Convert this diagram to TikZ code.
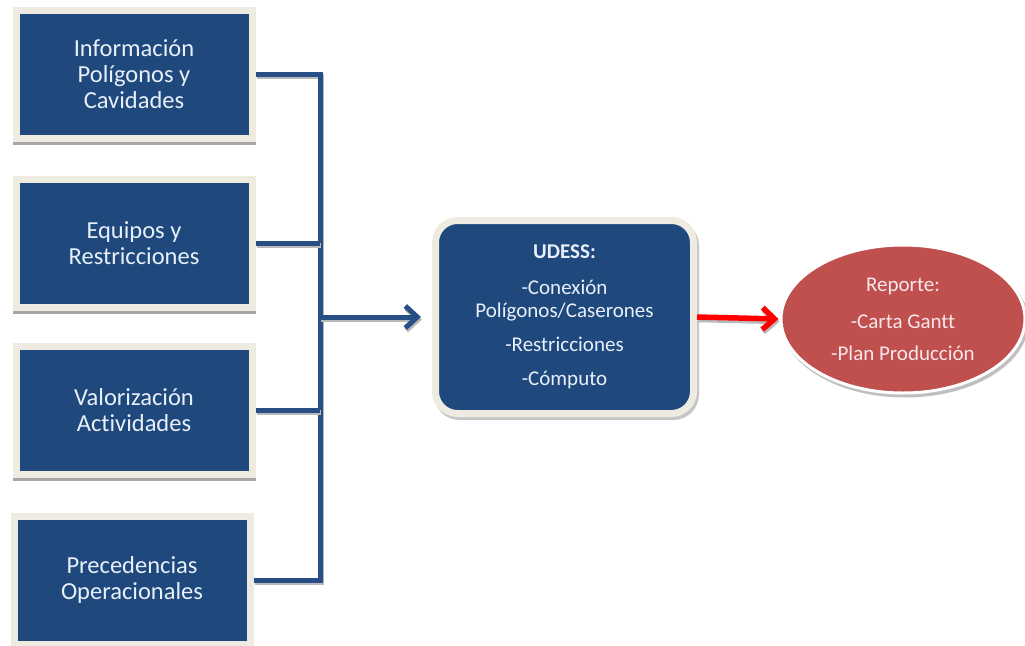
\documentclass[tikz,border=0pt]{standalone}
\usepackage{fontspec}
\setmainfont{Carlito}[Ligatures=NoCommon]
\usetikzlibrary{arrows.meta,shadows,shapes.geometric}
\definecolor{boxblue}{HTML}{1F497D}
\definecolor{boxframe}{HTML}{EEECE1}
\definecolor{wire}{HTML}{284F85}
\definecolor{lighttext}{HTML}{E8EFF9}
\definecolor{reportred}{HTML}{C0504D}
\definecolor{pinktext}{HTML}{F8E6EC}

\begin{document}
\begin{tikzpicture}[x=1pt,y=1pt,
  inputbox/.style={rectangle, fill=boxblue, draw=boxframe, line width=7pt,
    minimum width=236pt, minimum height=128pt, inner sep=0pt, outer sep=3.5pt,
    text=lighttext, align=center, font=\fontsize{24.5}{26}\selectfont,
    drop shadow={shadow xshift=0pt, shadow yshift=-3pt, fill=gray!70,
      draw=gray!70, line width=7pt, opacity=1}},
  mainbox/.style={rectangle, rounded corners=22pt, fill=boxblue, draw=boxframe,
    line width=7pt, minimum width=258pt, minimum height=193pt, inner sep=0pt,
    outer sep=3.5pt, text=lighttext, align=center,
    font=\fontsize{21}{23}\selectfont,
    drop shadow={shadow xshift=2pt, shadow yshift=-3pt, fill=gray!45,
      draw=gray!45, line width=7pt, opacity=1}},
  reportnode/.style={ellipse, fill=reportred, draw=white, line width=3pt,
    minimum width=244pt, minimum height=148pt, inner sep=0pt, outer sep=1.5pt,
    text=pinktext, align=center, font=\fontsize{21}{23}\selectfont,
    drop shadow={shadow xshift=2pt, shadow yshift=-3pt, fill=gray!50,
      draw=gray!50, line width=3pt, opacity=1}},
  conn/.style={draw=wire, line width=5pt, line join=miter,
    preaction={draw=gray!55, line width=5pt,
      transform canvas={xshift=1pt, yshift=-2.5pt}}},
  bluetip/.style={-{Straight Barb[length=12pt, width=22pt]}},
  redconn/.style={draw=red, line width=5.5pt,
    -{Straight Barb[length=12pt, width=22pt]},
    preaction={draw=gray!55, line width=5.5pt,
      transform canvas={xshift=1pt, yshift=-2.5pt}}}
]
\useasboundingbox (0,0) rectangle (1025,-645);
\clip (0,0) rectangle (1025,-645);

% input boxes
\node[inputbox] (b1) at (134,-74)  {Información\\Polígonos y\\Cavidades};
\node[inputbox] (b2) at (134,-243) {Equipos y\\Restricciones};
\node[inputbox] (b3) at (134,-410) {Valorización\\Actividades};
\node[inputbox] (b4) at (132,-580) {Precedencias\\Operacionales};

% central process box
\node[mainbox] (udess) at (564.5,-317)
  {\textbf{UDESS:}\\[13pt]-Conexión\\Polígonos/Caserones\\[11pt]-Restricciones\\[11pt]-Cómputo};

% report ellipse
\node[reportnode] (rep) at (903,-319)
  {Reporte:\\[14pt]-Carta Gantt\\[9pt]-Plan Producción};

% collecting bus
\coordinate (bus) at (320,0);
\draw[conn] (b1.east) -- (b1.east -| bus) -- (b4.east -| bus) -- (b4.east);
\draw[conn] (b2.east) -- (b2.east -| bus);
\draw[conn] (b3.east) -- (b3.east -| bus);
\draw[conn, bluetip, shorten >=11pt] (udess.west -| bus) -- (udess.west);

% output arrow
\draw[redconn, shorten >=1pt] (udess.east) -- (rep.west);
\end{tikzpicture}
\end{document}
